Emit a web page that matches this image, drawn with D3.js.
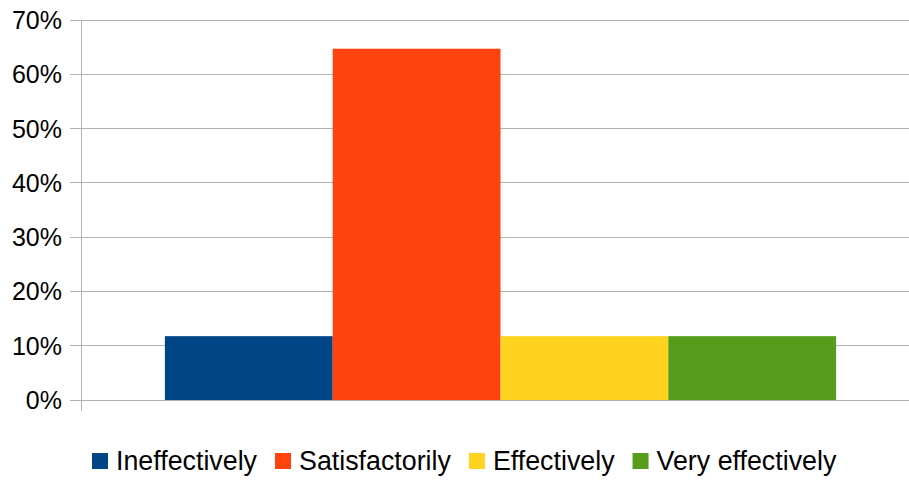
<!DOCTYPE html>
<html><head><meta charset="utf-8">
<script src="https://cdn.jsdelivr.net/npm/d3@7"></script>
<style>body{margin:0;background:#fff}svg{display:block}</style>
</head><body><svg id="c" width="909" height="480"></svg>
<script>
const categories = ["Ineffectively","Satisfactorily","Effectively","Very effectively"];
const values = [0.1176, 0.6471, 0.1176, 0.1176];
const colors = ["#004586","#ff420e","#ffd320","#579d1c"];
const yTicks = [0,0.1,0.2,0.3,0.4,0.5,0.6,0.7];

const svg = d3.select("#c");
const font = "'Liberation Sans', Arial, sans-serif";
const y = d3.scaleLinear().domain([0,0.7]).range([400,20]);
const x0 = d3.scaleBand().domain(["g"]).range([81,920]).paddingInner(0.2).paddingOuter(0.1);
const x1 = d3.scaleBand().domain(categories).range([0,x0.bandwidth()]);

// gridlines
svg.append("g").selectAll("line").data(yTicks).join("line")
  .attr("x1",70).attr("x2",920).attr("y1",d=>y(d)).attr("y2",d=>y(d))
  .attr("stroke","#b3b3b3").attr("stroke-width",1).attr("shape-rendering","crispEdges");

// y axis labels
svg.append("g").selectAll("text").data(yTicks).join("text")
  .attr("x",62).attr("y",d=>y(d)).attr("dy","0.36em").attr("text-anchor","end")
  .attr("font-family",font).attr("font-size",25).attr("fill","#000")
  .text(d=>d3.format(".0%")(d));

// bars
svg.append("g").selectAll("rect").data(categories).join("rect")
  .attr("x",(d)=>x0("g")+x1(d)).attr("width",x1.bandwidth())
  .attr("y",(d,i)=>y(values[i])).attr("height",(d,i)=>y(0)-y(values[i]))
  .attr("fill",(d,i)=>colors[i]);

// y axis line
svg.append("line").attr("x1",81.5).attr("x2",81.5).attr("y1",20).attr("y2",411)
  .attr("stroke","#b3b3b3").attr("stroke-width",1);
// baseline
svg.append("line").attr("x1",70).attr("x2",920).attr("y1",y(0)).attr("y2",y(0))
  .attr("stroke","#b3b3b3").attr("stroke-width",1).attr("shape-rendering","crispEdges");

// legend
const lg = svg.append("g");
let lx = 92;
categories.forEach((c,i)=>{
  lg.append("rect").attr("x",lx).attr("y",453).attr("width",16).attr("height",16).attr("fill",colors[i]);
  const t = lg.append("text").attr("x",lx+24).attr("y",470).attr("font-family",font)
    .attr("font-size",26.8).attr("fill","#000").text(c);
  lx += 24 + t.node().getComputedTextLength() + 18;
});
</script></body></html>
